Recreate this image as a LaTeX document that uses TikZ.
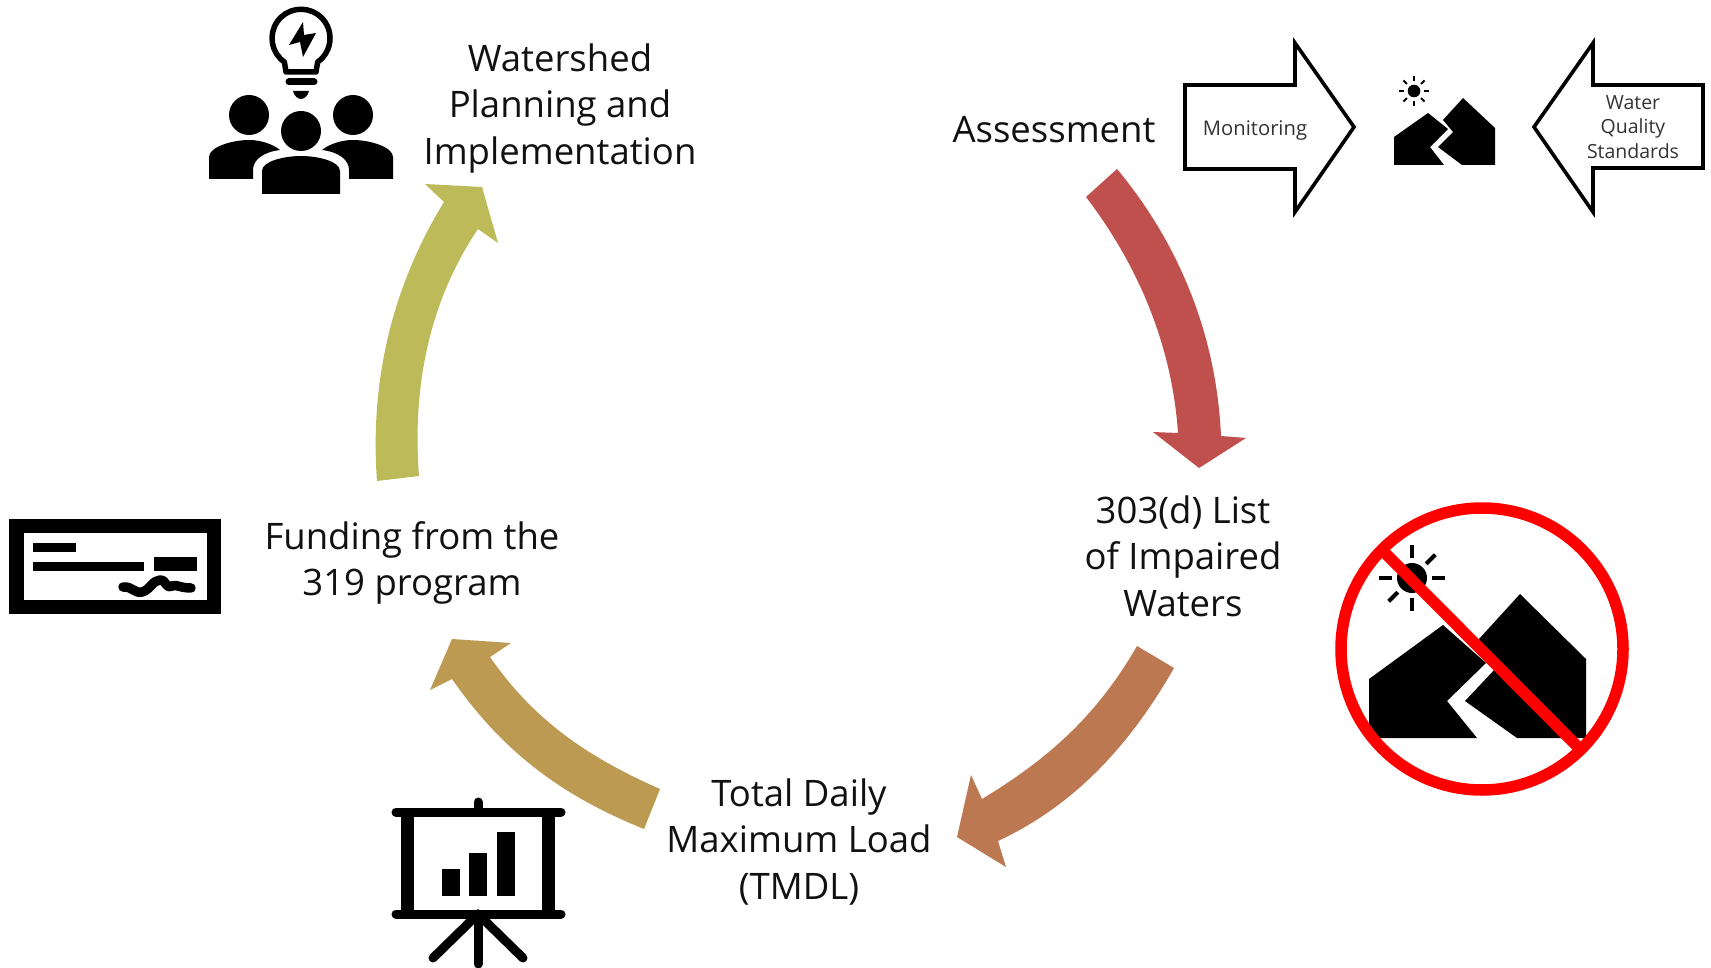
\documentclass[tikz,border=0pt]{standalone}
\usepackage{fontspec}
\setmainfont{Open Sans}
\definecolor{aredc}{HTML}{C0504D}
\definecolor{abrown}{HTML}{BC7850}
\definecolor{agold}{HTML}{BD9A52}
\definecolor{aolive}{HTML}{BDBB59}
\definecolor{txt}{HTML}{111111}
\tikzset{
  bigtext/.style={font=\fontsize{36.5}{46.5}\selectfont,align=center,text=txt,inner sep=0pt},
  smalltext/.style={font=\fontsize{19.5}{24.5}\selectfont,align=center,text=black!80,inner sep=0pt},
  blockarrow/.style={draw=black,line width=3.6pt,fill=white,line join=miter,miter limit=10},
  ray/.style={line width=#1,line cap=butt,black},
  thickbar/.style={line width=9pt,line cap=round,black}
}
\begin{document}
\begin{tikzpicture}[x=1pt,y=-1pt]
\useasboundingbox (0,0) rectangle (1711,968);
\fill[white] (0,0) rectangle (1711,968);

% curved arrows
\fill[aredc] (1117,169) .. controls (1172,235) and (1216,325) .. (1221,436)
  -- (1246,438) -- (1199,468) -- (1153,432) -- (1178,433)
  .. controls (1172,345) and (1138,265) .. (1086,197) -- cycle;
\fill[abrown] (1137,646) .. controls (1100,710) and (1055,755) .. (982,799)
  -- (971,775) -- (957,837) -- (1006,867) -- (998,841)
  .. controls (1075,805) and (1130,745) .. (1174,668) -- cycle;
\fill[agold] (660,789) .. controls (590,758) and (535,722) .. (490,657)
  -- (511,643) -- (452,639) -- (430,690) -- (452,679)
  .. controls (505,755) and (565,797) .. (644,829) -- cycle;
\fill[aolive] (377,481) .. controls (370,385) and (390,290) .. (444,202)
  -- (425,184) -- (482,187) -- (498,243) -- (478,229)
  .. controls (430,300) and (412,385) .. (419,476) -- cycle;

% labels
\node[bigtext] (ws) at (560,108.5) {Watershed\\Planning and\\Implementation};
\node[bigtext] (as) at (1054,130) {Assessment};
\node[bigtext] (li) at (1183,556) {303(d) List\\of Impaired\\Waters};
\node[bigtext] (tm) at (799,842) {Total Daily\\Maximum Load\\(TMDL)};
\node[bigtext] (fu) at (412,563) {Funding from the\\319 program};

% block arrows
\draw[blockarrow] (1185,85) -- (1295,85) -- (1295,43) -- (1354,127) -- (1295,212) -- (1295,169) -- (1185,169) -- cycle;
\draw[blockarrow] (1703,85) -- (1593,85) -- (1593,43) -- (1534,127) -- (1593,212) -- (1593,168) -- (1703,168) -- cycle;
\node[smalltext,font=\fontsize{20.2}{24.5}\selectfont] (mo) at (1255,130.5) {Monitoring};
\node[smalltext] (wq) at (1633,127) {Water\\Quality\\Standards};

% small mountains
\fill (1394,137) -- (1428,113) -- (1448,129) -- (1430,147) -- (1444,165) -- (1394,165) -- cycle;
\fill (1463,98) -- (1495,128) -- (1495,165) -- (1462,165) -- (1438,147) -- (1453,132) -- (1443,120) -- cycle;
\fill (1414,91) circle (6.3);
\foreach \a in {0,45,...,315}
  \draw[ray=2pt] (1414,91) ++(\a:10) -- ++(\a:5);

% no-mountains icon
\fill (1369,679) -- (1443,625) -- (1486,663) -- (1447,701) -- (1477,738) -- (1369,738) -- cycle;
\fill (1520,594) -- (1586,659) -- (1586,738) -- (1517,738) -- (1465,701) -- (1496,668) -- (1479,639) -- cycle;
\fill (1412,578) circle (15);
\foreach \a in {0,90,180,270,315,135}
  \draw[ray=4pt] (1412,578) ++(\a:20) -- ++(\a:13);
\draw[line width=11.5pt,red] (1384,552) -- (1578,747);
\draw[line width=11.5pt,red] (1482,649) circle (141);

% check icon
\draw[line width=14.5pt,black] (16.5,526) rectangle (214,607);
\fill (33,543) rectangle (76,552);
\fill (33,562) rectangle (144,571);
\fill (154,557) rectangle (197,571);
\draw[line width=9.5pt,line cap=round,line join=round,black] (123,587) .. controls (132,586) and (135,594) .. (142,592) .. controls (150,590) and (153,580) .. (160,580) .. controls (167,580) and (165,589) .. (172,586) .. controls (176,584) and (180,588) .. (191,588);

% presentation icon
\draw[thickbar] (396,812) -- (561,812);
\draw[thickbar] (396,914) -- (561,914);
\draw[thickbar] (478,802) -- (478,812);
\draw[line width=13pt,black] (407.5,812) -- (407.5,914);
\draw[line width=13pt,black] (548.5,812) -- (548.5,914);
\fill (442,869) rectangle (460,896);
\fill (469,853) rectangle (487,896);
\fill (497,832) rectangle (515,896);
\draw[thickbar] (478,914) -- (478,964);
\draw[thickbar] (478,914) -- (433,958);
\draw[thickbar] (478,914) -- (523,958);

% people icon
\draw[line width=5.5pt,line join=round,black] (284.4,62) arc (125:415:29) -- (316,72) -- (286,72) -- cycle;
\draw[line width=7pt,line cap=round,black] (289,82) -- (314,82);
\fill (293,91) -- (309,91) .. controls (308,96) and (304,99) .. (301,99) .. controls (298,99) and (294,96) .. (293,91) -- cycle;
\fill (303,22) -- (289,45) -- (300,42) -- (303,57) -- (316,33) -- (304,35) -- cycle;
\fill (249,115) circle (20);
\fill (353,115) circle (20);
\fill (301,131) circle (20);
\fill (262,194) -- (262,171) .. controls (262,161) and (285,156) .. (301,156) .. controls (317,156) and (340,161) .. (340,171) -- (340,194) -- cycle;
\fill (209,179) -- (209,157) .. controls (209,147) and (232,140) .. (249,140) .. controls (262,140) and (274,145) .. (280,150) .. controls (263,152) and (253,160) .. (253,170) -- (253,179) -- cycle;
\fill (393,179) -- (393,157) .. controls (393,147) and (370,140) .. (353,140) .. controls (340,140) and (328,145) .. (322,150) .. controls (339,152) and (349,160) .. (349,170) -- (349,179) -- cycle;
\end{tikzpicture}
\end{document}
